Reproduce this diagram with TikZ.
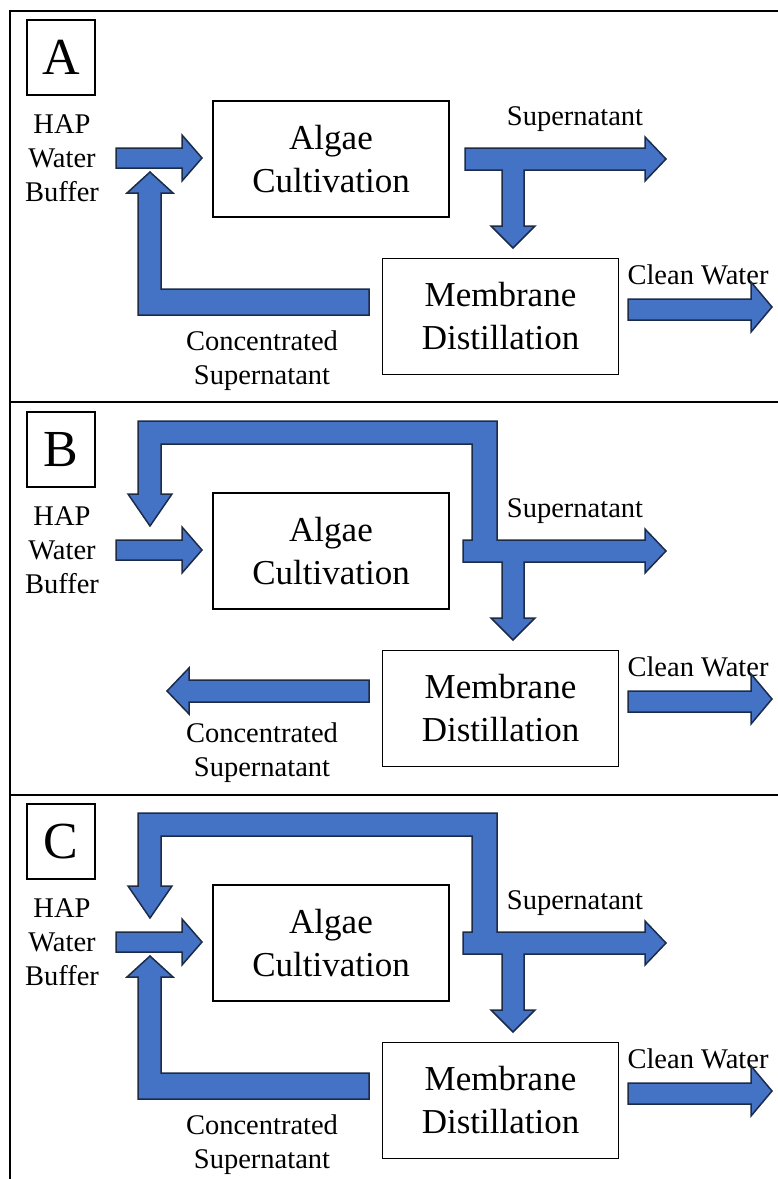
\documentclass[tikz,border=0pt]{standalone}
\usepackage{fontspec}
\setmainfont{Liberation Serif}
\usetikzlibrary{calc}
\definecolor{flowblue}{HTML}{4472C4}
\definecolor{flowedge}{HTML}{1C2B48}
\tikzset{
  flow/.style={fill=flowblue, draw=flowedge, line width=1.5pt, line join=miter},
  stage/.style={draw, line width=1.4pt, align=center, inner sep=0pt,
    minimum width=236pt, minimum height=116pt, font=\fontsize{35}{43}\selectfont},
  note/.style={align=center, inner sep=0pt, font=\fontsize{28.5}{34}\selectfont},
  labelbox/.style={draw, line width=1.6pt, inner sep=0pt, minimum width=68pt,
    minimum height=75pt, font=\fontsize{52}{52}\selectfont},
  % parts shared by all three panels
  pics/panel/.style={code={%
      \node [labelbox] (-letter) at (61,57.5) {#1};
      \node [note] (-hap) at (62,158) {HAP\\Water\\Buffer};
      \node [stage] (-algae) at (331,159) {Algae\\Cultivation};
      \node [stage] (-md) at (500.5,316.5) {Membrane\\Distillation};
      \node [note] (-sup) at (575,119.5) {Supernatant};
      \node [note] (-clean) at (698,274.5) {Clean Water};
      \node [note] (-conc) at (262,361) {Concentrated\\Supernatant};
      % feed and clean water
      \draw [flow] (116,148) -- (182,148) -- (182,135) -- (202,158)
        -- (182,181) -- (182,168) -- (116,168) -- cycle;
      \draw [flow] (628,299) -- (751,299) -- (751,282) -- (772,307)
        -- (751,332) -- (751,320) -- (628,320) -- cycle;
  }},
  % supernatant split (A)
  pics/split/.style={code={%
      \draw [flow] (465,148) -- (645,148) -- (645,137) -- (666,159)
        -- (645,181) -- (645,170) -- (524,170) -- (524,226) -- (535,226)
        -- (513,248) -- (491,226) -- (502,226) -- (502,170) -- (465,170) -- cycle;
  }},
  % supernatant split with loop back to the feed (B, C)
  pics/bypass/.style={code={%
      \draw [flow] (463,148) -- (472,148) -- (472,52) -- (161,52) -- (161,102)
        -- (172,102) -- (150,134) -- (128,102) -- (138,102) -- (138,29)
        -- (497,29) -- (497,148) -- (645,148) -- (645,137) -- (666,159)
        -- (645,181) -- (645,170) -- (524,170) -- (524,226) -- (535,226)
        -- (513,248) -- (491,226) -- (502,226) -- (502,170) -- (463,170) -- cycle;
  }},
  % concentrate back to the feed (A, C)
  pics/recycle/.style={code={%
      \draw [flow] (369,289) -- (161,289) -- (161,193) -- (173,193) -- (150,172)
        -- (127,193) -- (138,193) -- (138,315) -- (369,315) -- cycle;
  }},
  % concentrate out (B)
  pics/reject/.style={code={%
      \draw [flow] (369,288) -- (189,288) -- (189,276) -- (167,299)
        -- (189,322) -- (189,310) -- (369,310) -- cycle;
  }}
}

\begin{document}
\begin{tikzpicture}[x=1pt, y=-1pt]
    \useasboundingbox (0,0) rectangle (778,1179);
    \clip (0,0) rectangle (778,1179);

    % frame
    \draw [line width=2.2pt] (10,1200) -- (10,11) -- (800,11);
    \draw [line width=2.2pt] (10,402) -- (800,402);
    \draw [line width=2.2pt] (10,795) -- (800,795);

    % panels
    \pic (a) at (0,0) {panel=A};
    \pic at (0,0) {split};
    \pic at (0,0) {recycle};

    \pic (b) at (0,392) {panel=B};
    \pic at (0,392) {bypass};
    \pic at (0,392) {reject};

    \pic (c) at (0,784) {panel=C};
    \pic at (0,784) {bypass};
    \pic at (0,784) {recycle};
\end{tikzpicture}
\end{document}
